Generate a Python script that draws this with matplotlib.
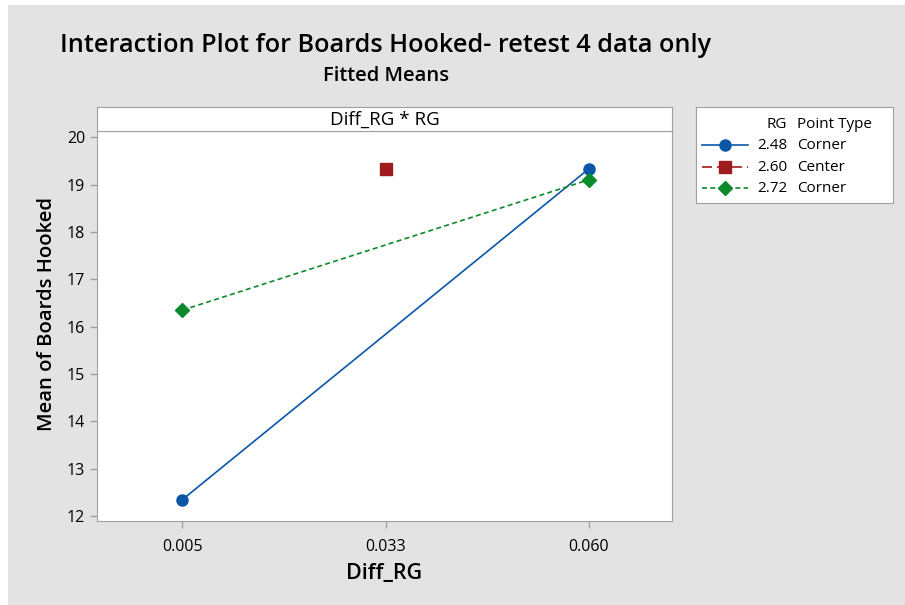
import matplotlib
matplotlib.use("Agg")
import matplotlib.pyplot as plt
from matplotlib.patches import Rectangle

# ── Data ──────────────────────────────────────────────────────────────────────
DIFF_RG = ["0.005", "0.033", "0.060"]
RG_LEVELS = ["2.48", "2.60", "2.72"]
POINT_TYPE = ["Corner", "Center", "Corner"]

# fitted means per RG level at each Diff_RG level (None = not observed)
MEAN_248 = [12.35, None, 19.33]
MEAN_260 = [None, 19.33, None]
MEAN_272 = [16.35, None, 19.10]

YTICKS = [12, 13, 14, 15, 16, 17, 18, 19, 20]

BG = "#e3e3e3"
SPINE = "#a0a0a0"
STYLES = [
    dict(color="#0a56a8", linestyle="-", marker="o", markersize=8),
    dict(color="#a01b1b", linestyle=(0, (6, 3)), marker="s", markersize=8),
    dict(color="#0b8a2b", linestyle=(0, (3, 2)), marker="D", markersize=7),
]

plt.rcParams["font.family"] = ["Open Sans", "DejaVu Sans"]

fig = plt.figure(figsize=(9.05, 6.05), dpi=100, facecolor="white")
fig.patches.append(Rectangle((8 / 905, 0), 1, 1 - 5 / 605, transform=fig.transFigure,
                             facecolor=BG, edgecolor="none", zorder=-10))

ax = fig.add_axes([97 / 905, 1 - 521 / 605, 575 / 905, 390 / 605])
strip = fig.add_axes([97 / 905, 1 - 131 / 605, 575 / 905, 24 / 605])
lax = fig.add_axes([696 / 905, 1 - 203 / 605, 197 / 905, 96 / 605])

xpos = list(range(len(DIFF_RG)))
for means, st in zip([MEAN_248, MEAN_260, MEAN_272], STYLES):
    xs = [x for x, m in zip(xpos, means) if m is not None]
    ys = [m for m in means if m is not None]
    ax.plot(xs, ys, linewidth=1.2, **st)

ax.set_xlim(-0.42, 2.41)
ax.set_ylim(11.9, 20.13)
ax.set_xticks(xpos)
ax.set_xticklabels(DIFF_RG)
ax.set_yticks(YTICKS)
ax.tick_params(axis="both", colors=SPINE, labelcolor="black", labelsize=11.5,
               length=5, width=1)
ax.tick_params(axis="x", pad=8)
for sp in ax.spines.values():
    sp.set_color(SPINE)
ax.set_xlabel("Diff_RG", fontsize=15.5, fontweight="semibold", labelpad=6)
ax.set_ylabel("Mean of Boards Hooked", fontsize=14.6, fontweight="semibold")
ax.yaxis.set_label_coords(-0.07, 0.53)

strip.set_xticks([])
strip.set_yticks([])
for sp in strip.spines.values():
    sp.set_color(SPINE)
strip.text(0.5, 0.48, "Diff_RG * RG", ha="center", va="center", fontsize=13.5,
           transform=strip.transAxes)

fig.text(386 / 905, 1 - 45 / 605, "Interaction Plot for Boards Hooked- retest 4 data only",
         ha="center", va="center", fontsize=18.2, fontweight="semibold")
fig.text(386 / 905, 1 - 76 / 605, "Fitted Means", ha="center", va="center",
         fontsize=14.5, fontweight="semibold")

# ── Legend box (drawn in its own pixel-like coordinate frame) ────────────────
lax.set_xlim(0, 197)
lax.set_ylim(96, 0)
lax.set_xticks([])
lax.set_yticks([])
for sp in lax.spines.values():
    sp.set_color(SPINE)
lax.text(91, 17, "RG", ha="right", va="center", fontsize=11)
lax.text(101, 17, "Point Type", ha="left", va="center", fontsize=11)
for row_y, lvl, pt, st in zip([38, 60, 81], RG_LEVELS, POINT_TYPE, STYLES):
    lax.plot([6, 52], [row_y, row_y], linewidth=1.2, color=st["color"],
             linestyle=st["linestyle"])
    lax.plot([29], [row_y], linestyle="none", marker=st["marker"],
             markersize=st["markersize"], color=st["color"])
    lax.text(91, row_y, lvl, ha="right", va="center", fontsize=11)
    lax.text(101, row_y, pt, ha="left", va="center", fontsize=11)

fig.savefig("out.png", dpi=100, facecolor=fig.get_facecolor())
